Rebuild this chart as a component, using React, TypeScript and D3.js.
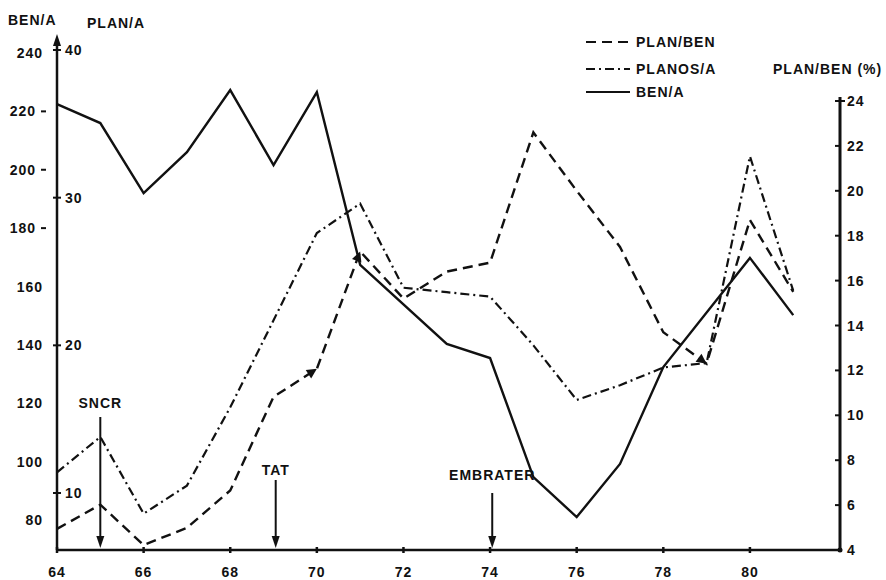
import React from 'react';
import * as d3 from 'd3';

// ---- data ----
const xTicks = [64, 66, 68, 70, 72, 74, 76, 78, 80];
const benTicks = [80, 100, 120, 140, 160, 180, 200, 220, 240];
const benDashTicks = [180, 200, 220];
const planTicks = [10, 20, 30, 40];
const pctTicks = [4, 6, 8, 10, 12, 14, 16, 18, 20, 22, 24];

// BEN/A (solid, left outer axis)
const benYears = [64, 65, 66, 67, 68, 69, 70, 71, 73, 74, 75, 76, 77, 78, 80, 81];
const benValues = [222.5, 216, 192, 206, 227.3, 201.6, 226.6, 167.4, 140.3, 135.5, 94.7, 81, 99.2, 132.4, 169.8, 150.2];

// PLANOS/A (dash-dot, left inner axis)
const planYears = [64, 65, 66, 67, 68, 69, 70, 71, 72, 73, 74, 75, 76, 77, 78, 79, 80, 81];
const planValues = [11.4, 13.8, 8.6, 10.5, 15.8, 21.7, 27.6, 29.6, 23.9, 23.6, 23.3, 20.0, 16.3, 17.3, 18.5, 18.8, 32.8, 23.7];

// PLAN/BEN % (dashed, right axis)
const pctYears = [64, 65, 66, 67, 68, 69, 70, 71, 72, 73, 74, 75, 76, 77, 78, 79, 80, 81];
const pctValues = [4.94, 6.02, 4.22, 4.99, 6.65, 10.82, 12.07, 17.3, 15.2, 16.4, 16.8, 22.6, 20.0, 17.5, 13.7, 12.3, 18.7, 15.5];
const pctArrowYears = [70, 71, 79];

// event annotations
const events = [
  { label: 'SNCR', year: 65, textY: 403, top: 417 },
  { label: 'TAT', year: 69.05, textY: 470, top: 480 },
  { label: 'EMBRATER', year: 74.05, textY: 475, top: 493 },
];

const legendItems = [
  { label: 'PLAN/BEN', dash: '10,6', y: 42 },
  { label: 'PLANOS/A', dash: '9,4,2,4', y: 69 },
  { label: 'BEN/A', dash: '', y: 92 },
];

const W = 886;
const H = 580;
const X0 = 57;
const X1 = 840;
const BASE = 550;
const FONT = '"Liberation Sans", Arial, Helvetica, sans-serif';

export default function App() {
  const x = d3.scaleLinear().domain([64, 82.08]).range([X0, X1]);
  const yBen = d3.scaleLinear().domain([80, 240]).range([520, 53]);
  const yPlan = d3.scaleLinear().domain([10, 40]).range([493, 50]);
  const yPct = d3.scaleLinear().domain([4, 24]).range([BASE, 101]);

  const benLine = d3.line<number>().x((_, i) => x(benYears[i])).y((d) => yBen(d))(benValues) || '';
  const planLine = d3.line<number>().x((_, i) => x(planYears[i])).y((d) => yPlan(d))(planValues) || '';
  const pctLine = d3.line<number>().x((_, i) => x(pctYears[i])).y((d) => yPct(d))(pctValues) || '';

  const textStyle: React.CSSProperties = {
    fontFamily: FONT,
    fontWeight: 700,
    fontSize: 14,
    letterSpacing: 1,
    fill: '#111',
  };

  const arrows = pctArrowYears.map((yr) => {
    const i = pctYears.indexOf(yr);
    const px = x(pctYears[i]);
    const py = yPct(pctValues[i]);
    const qx = x(pctYears[i - 1]);
    const qy = yPct(pctValues[i - 1]);
    const ang = (Math.atan2(py - qy, px - qx) * 180) / Math.PI;
    return { px, py, ang };
  });

  return (
    <svg
      width={W}
      height={H}
      viewBox={`0 0 ${W} ${H}`}
      style={{ position: 'absolute', left: 0, top: 0, background: '#fff' }}
    >
      <rect x={0} y={0} width={W} height={H} fill="#fff" />

      {/* axes */}
      <line x1={X0} y1={BASE} x2={X0} y2={42} stroke="#111" strokeWidth={2.5} />
      <path d={`M${X0},34 L${X0 - 4},46 L${X0 + 4},46 Z`} fill="#111" />
      <line x1={X0} y1={BASE} x2={X1} y2={BASE} stroke="#111" strokeWidth={2.5} />
      <line x1={X1} y1={BASE} x2={X1} y2={97} stroke="#111" strokeWidth={3} />
      <circle cx={X1} cy={BASE} r={2.5} fill="#111" />

      {/* x ticks */}
      {xTicks.map((t) => (
        <g key={`xt${t}`}>
          <line x1={x(t)} x2={x(t)} y1={BASE - 3} y2={BASE + 3} stroke="#111" strokeWidth={2.5} />
          <text x={x(t)} y={572} textAnchor="middle" dominantBaseline="central" style={textStyle}>
            {t}
          </text>
        </g>
      ))}

      {/* BEN/A ticks (outer left) */}
      {benTicks.map((t) => {
        const hasDash = benDashTicks.includes(t);
        return (
          <g key={`bt${t}`}>
            <text
              x={hasDash ? 36 : 43}
              y={yBen(t)}
              textAnchor="end"
              dominantBaseline="central"
              style={textStyle}
            >
              {t}
            </text>
            {hasDash && <line x1={41} x2={46} y1={yBen(t)} y2={yBen(t)} stroke="#111" strokeWidth={2} />}
          </g>
        );
      })}

      {/* PLAN/A ticks (inner left) */}
      {planTicks.map((t) => (
        <g key={`pt${t}`}>
          <line x1={X0 - 4} x2={X0 + 4} y1={yPlan(t)} y2={yPlan(t)} stroke="#111" strokeWidth={2} />
          <text x={65} y={yPlan(t)} textAnchor="start" dominantBaseline="central" style={textStyle}>
            {t}
          </text>
        </g>
      ))}

      {/* right axis ticks */}
      {pctTicks.map((t) => (
        <g key={`rt${t}`}>
          <line
            x1={X1 - 5}
            x2={t === 24 ? X1 + 5 : X1}
            y1={yPct(t)}
            y2={yPct(t)}
            stroke="#111"
            strokeWidth={2}
          />
          <text x={847} y={yPct(t)} textAnchor="start" dominantBaseline="central" style={textStyle}>
            {t}
          </text>
        </g>
      ))}

      {/* axis titles */}
      <text x={8} y={20} dominantBaseline="central" style={textStyle}>BEN/A</text>
      <text x={87} y={23} dominantBaseline="central" style={textStyle}>PLAN/A</text>
      <text x={773} y={69} dominantBaseline="central" style={textStyle}>PLAN/BEN (%)</text>

      {/* legend */}
      {legendItems.map((it) => (
        <g key={it.label}>
          <line
            x1={586}
            x2={630}
            y1={it.y}
            y2={it.y}
            stroke="#111"
            strokeWidth={2.2}
            strokeDasharray={it.dash || undefined}
          />
          <text x={636} y={it.y} dominantBaseline="central" style={textStyle}>
            {it.label}
          </text>
        </g>
      ))}

      {/* series */}
      <path d={planLine} fill="none" stroke="#111" strokeWidth={2.2} strokeDasharray="9,4,2,4" />
      <path d={pctLine} fill="none" stroke="#111" strokeWidth={2.4} strokeDasharray="10,6" />
      <path d={benLine} fill="none" stroke="#111" strokeWidth={2.4} strokeLinejoin="miter" />

      {arrows.map((a, i) => (
        <path
          key={`ar${i}`}
          d="M0,0 L-10,-5 L-10,5 Z"
          transform={`translate(${a.px},${a.py}) rotate(${a.ang})`}
          fill="#111"
        />
      ))}

      {/* event annotations */}
      {events.map((e) => (
        <g key={e.label}>
          <text x={x(e.year)} y={e.textY} textAnchor="middle" dominantBaseline="central" style={textStyle}>
            {e.label}
          </text>
          <line x1={x(e.year)} x2={x(e.year)} y1={e.top} y2={BASE - 8} stroke="#111" strokeWidth={2} />
          <path
            d={`M${x(e.year)},${BASE - 2} L${x(e.year) - 4},${BASE - 14} L${x(e.year) + 4},${BASE - 14} Z`}
            fill="#111"
          />
        </g>
      ))}
    </svg>
  );
}
